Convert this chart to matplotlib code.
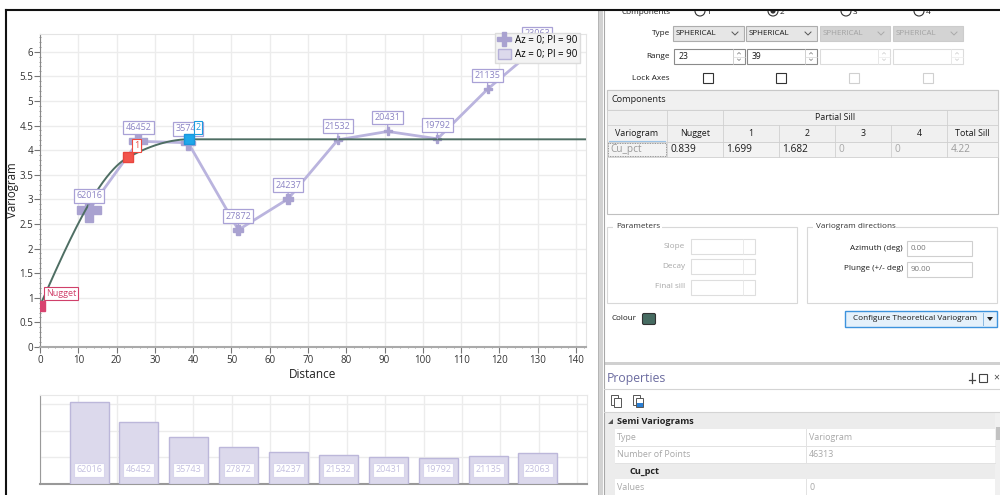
import numpy as np
import matplotlib
matplotlib.use('Agg')
import matplotlib.pyplot as plt
from matplotlib.patches import Rectangle, Circle, FancyBboxPatch
from matplotlib.lines import Line2D

plt.rcParams['font.family'] = ['Open Sans', 'DejaVu Sans']

# ---------------- data ----------------
lag_distance = [12.8, 25.7, 38.7, 51.8, 64.8, 77.8, 90.8, 103.8, 116.9, 129.8]
semivariance = [2.79, 4.18, 4.15, 2.38, 3.01, 4.21, 4.38, 4.23, 5.24, 6.09]
pair_counts = [62016, 46452, 35743, 27872, 24237, 21532, 20431, 19792, 21135, 23063]

nugget = 0.839
ranges = [23, 39]
partial_sills = [1.699, 1.682]
total_sill = 4.22
azimuth = 0.0
plunge = 90.0
num_points = 46313
variable = 'Cu_pct'
model_type = 'SPHERICAL'

x_ticks = list(range(0, 141, 10))
y_ticks = [0, 0.5, 1, 1.5, 2, 2.5, 3, 3.5, 4, 4.5, 5, 5.5, 6]

W, H = 1000, 495
fig = plt.figure(figsize=(10, 4.95), dpi=100)
fig.patch.set_facecolor('white')


def fr(x0, y0, x1, y1):
    return [x0 / W, 1 - y1 / H, (x1 - x0) / W, (y1 - y0) / H]


ui = fig.add_axes([0, 0, 1, 1], zorder=-5)
ui.set_xlim(0, W)
ui.set_ylim(H, 0)
ui.axis('off')

LABEL_C = '#8c84c4'
LABEL_E = '#a9a1d6'
PT = 0.72  # points per pixel

# ---------------- main variogram axes ----------------
XMAX, YMAX = 142.6, 6.36
AX_L, AX_T, AX_R, AX_B = 40, 34, 586, 347
ax = fig.add_axes(fr(AX_L, AX_T, AX_R, AX_B))
ax.set_xlim(0, XMAX)
ax.set_ylim(0, YMAX)


def spherical(h, a):
    r = np.minimum(np.asarray(h, float) / a, 1.0)
    return 1.5 * r - 0.5 * r ** 3


def model(h):
    g = nugget + np.zeros_like(np.asarray(h, float))
    for a, c in zip(ranges, partial_sills):
        g = g + c * spherical(h, a)
    return g


ax.plot(lag_distance, semivariance, color='#bab4de', lw=2, zorder=3)
pmin, pmax = min(pair_counts), max(pair_counts)
for x, y, p in zip(lag_distance, semivariance, pair_counts):
    ms = 5.5 + 11.5 * (p - pmin) / (pmax - pmin)
    ax.plot([x], [y], marker='P', ms=ms, color='#a9a2d0', mec='#a9a2d0', zorder=4)

hh = np.linspace(0, XMAX, 600)
ax.plot(hh, model(hh), color='#4e6e63', lw=1.4, zorder=5)

# data labels
for x, y, p in zip(lag_distance, semivariance, pair_counts):
    ax.annotate(str(p), xy=(x, y), xytext=(0, 13.8 * PT), textcoords='offset points',
                ha='center', va='center', fontsize=6.5, color=LABEL_C, zorder=7,
                annotation_clip=False,
                bbox=dict(boxstyle='square,pad=0.25', fc='white', ec=LABEL_E, lw=0.9),
                arrowprops=dict(arrowstyle='-', color=LABEL_E, lw=0.9, shrinkA=0, shrinkB=0))

# handles
ax.plot([0], [nugget], 's', ms=7.5, color='#d8436f', zorder=8)
ax.plot([ranges[0]], [model(ranges[0])], 's', ms=7.5, color='#f2544c', mec='#e8453e', zorder=8)
ax.plot([ranges[1]], [model(ranges[1])], 's', ms=7.8, color='#1fa8ea', mec='#1896dc', zorder=8)
ax.annotate('Nugget', xy=(0, nugget), xytext=(6 * PT, 7.5 * PT), textcoords='offset points',
            ha='left', va='bottom', fontsize=6.5, color='#d0406a', zorder=9,
            bbox=dict(boxstyle='square,pad=0.2', fc='white', ec='#d0406a', lw=0.8))
ax.annotate('1', xy=(ranges[0], model(ranges[0])), xytext=(6 * PT, 7.5 * PT),
            textcoords='offset points', ha='left', va='bottom', fontsize=6.5,
            color='#f04a40', zorder=9,
            bbox=dict(boxstyle='square,pad=0.2', fc='white', ec='#f04a40', lw=0.8))
ax.annotate('2', xy=(ranges[1], model(ranges[1])), xytext=(6 * PT, 7.5 * PT),
            textcoords='offset points', ha='left', va='bottom', fontsize=6.5,
            color='#1a9de0', zorder=9,
            bbox=dict(boxstyle='square,pad=0.2', fc='white', ec='#1a9de0', lw=0.8))

ax.set_xticks(x_ticks)
ax.set_yticks(y_ticks)
ax.set_yticklabels(['%g' % v for v in y_ticks])
ax.set_xticks(np.arange(0, XMAX, 2), minor=True)
ax.set_yticks(np.arange(0, YMAX, 0.1), minor=True)
ax.tick_params(which='major', length=4, width=0.8, color='#777', labelsize=7,
               labelcolor='#333', pad=2)
ax.tick_params(axis='y', which='major', pad=0.8)
ax.tick_params(which='minor', length=2, width=0.6, color='#888', direction='inout')
ax.grid(which='major', color='#ececec', lw=1)
ax.set_axisbelow(True)
for s in ['top', 'right']:
    ax.spines[s].set_color('#e4e4e4')
ax.spines['left'].set_color('#888')
ax.spines['bottom'].set_color('#aaaaaa')
ax.spines['bottom'].set_linewidth(1.5)
ax.set_xlabel('Distance', fontsize=8.5, color='#222')
ax.set_ylabel('Variogram', fontsize=8.3, color='#222')
ax.xaxis.set_label_coords(0.5, -(368 - AX_B) / (AX_B - AX_T), transform=ax.transAxes)
ax.yaxis.set_label_coords(-(AX_L - 19.5) / (AX_R - AX_L), 0.5, transform=ax.transAxes)

lab = 'Az = %g; Pl = %g' % (azimuth, plunge)
handles = [Line2D([], [], marker='P', ls='none', color='#a9a2d0', ms=9.5),
           Rectangle((0, 0), 1, 1, fc='#dcd9ec', ec='#b5b0d8')]
leg = ax.legend(handles, [lab, lab], loc='upper right', bbox_to_anchor=(0.989, 1.004),
                fontsize=7, frameon=True, fancybox=False, facecolor='#f3f3f3',
                edgecolor='#dcdcdc', framealpha=1, handlelength=1.4, handleheight=1.2,
                borderpad=0.25, labelspacing=0.25, handletextpad=0.4, borderaxespad=0)
leg.set_zorder(20)

# ---------------- histogram axes ----------------
ax2 = fig.add_axes(fr(40, 395, 587, 484))
ax2.set_xlim(0, XMAX)
ax2.set_ylim(0, 67000)
ax2.bar(lag_distance, pair_counts, width=10.2, color='#dcd9ec', edgecolor='#bcb7da',
        lw=1, zorder=3)
for x, p in zip(lag_distance, pair_counts):
    ax2.annotate(str(p), xy=(x, 0), xytext=(0, 14 * PT), textcoords='offset points',
                 ha='center', va='center', fontsize=6.5, color='#c4c0e0', zorder=5,
                 bbox=dict(boxstyle='square,pad=0.25', fc='white', ec='#d8d5ec', lw=0.8))
ax2.set_xticks(x_ticks)
ax2.set_yticks([20000, 40000, 60000])
ax2.tick_params(length=0, labelbottom=False, labelleft=False)
ax2.grid(color='#ececec', lw=1)
ax2.set_axisbelow(True)
for s in ['top', 'right']:
    ax2.spines[s].set_color('#e8e8e8')
ax2.spines['left'].set_color('#9a9a9a')
ax2.spines['bottom'].set_color('#999')
ax2.spines['bottom'].set_linewidth(1.5)

# ---------------- UI panel ----------------
UIS = 5.9  # base UI font size


def t(x, y, s, size=UIS, color='#1a1a1a', ha='left', va='center', weight='normal', z=3):
    ui.text(x, y, s, fontsize=size, color=color, ha=ha, va=va, weight=weight, zorder=z)


def box(x0, y0, x1, y1, fc='white', ec='#b4b4b4', lw=0.8, z=2):
    ui.add_patch(Rectangle((x0, y0), x1 - x0, y1 - y0, fc=fc, ec=ec, lw=lw, zorder=z))


def hline(x0, x1, y, c='#cfcfcf', lw=0.8, z=3):
    ui.plot([x0, x1], [y, y], color=c, lw=lw, zorder=z)


def vline(x, y0, y1, c='#cfcfcf', lw=0.8, z=3):
    ui.plot([x, x], [y0, y1], color=c, lw=lw, zorder=z)


# splitter
ui.add_patch(Rectangle((597.5, 10), 5, 485, fc='#d2d2d2', ec='none', zorder=2))
vline(597.5, 10, 495, c='#b0b0b0', lw=0.6)
vline(603.5, 10, 495, c='#a8a8a8', lw=0.8)

# radio buttons (clipped by top border)
t(670, 12.5, 'Components', ha='right')
for i, cx in enumerate([700, 773, 846, 919]):
    ui.add_patch(Circle((cx, 11), 5, fc='white', ec='#333', lw=0.8, zorder=3))
    if i == 1:
        ui.add_patch(Circle((cx, 11), 2.6, fc='#333', ec='none', zorder=4))
    t(cx + 6.5, 12.5, str(i + 1))

# Type row
t(670, 33.5, 'Type', ha='right')
for i, (x0, x1) in enumerate([(673, 744), (746, 817), (820, 890), (893, 963)]):
    enabled = i < 2
    box(x0, 26, x1, 41, fc='#e6e6e6' if enabled else '#d3d3d3',
        ec='#adadad' if enabled else '#cccccc')
    t(x0 + 3, 33.5, model_type, size=5.8, color='#1a1a1a' if enabled else '#a3a3a3')
    cx = x1 - 9
    ui.plot([cx - 3, cx, cx + 3], [32, 35, 32], color='#555' if enabled else '#aaa',
            lw=0.7, zorder=4)

# Range row
t(670, 56.5, 'Range', ha='right')
range_texts = [str(ranges[0]), str(ranges[1]), '', '']
for i, (x0, x1) in enumerate([(674, 745), (747, 817), (820, 890), (893, 963)]):
    enabled = i < 2
    box(x0, 49, x1, 64, fc='white', ec='#8a8a8a' if enabled else '#dcdcdc')
    vline(x1 - 12, 49, 64, c='#c8c8c8' if enabled else '#e4e4e4', lw=0.6)
    hline(x1 - 12, x1, 56.5, c='#d8d8d8' if enabled else '#ececec', lw=0.5)
    c = '#777' if enabled else '#ccc'
    ui.plot([x1 - 7.5, x1 - 6, x1 - 4.5], [54, 52.5, 54], color=c, lw=0.5, zorder=4)
    ui.plot([x1 - 7.5, x1 - 6, x1 - 4.5], [59, 60.5, 59], color=c, lw=0.5, zorder=4)
    t(x0 + 5, 56.5, range_texts[i], size=6.2)

# Lock Axes row
t(670, 78, 'Lock Axes', ha='right')
for i, cx in enumerate([708, 781, 854, 928]):
    box(cx - 5, 73, cx + 5, 83, fc='white', ec='#333' if i < 2 else '#d0d0d0', lw=0.8)

# Components table
box(607, 90, 998, 214, fc='white', ec='#c0c0c0')
box(607, 90, 998, 110, fc='#f0f0f0', ec='#c8c8c8')
t(612, 100, 'Components', size=6.6, color='#222')
box(607, 110, 998, 142, fc='#f0f0f0', ec='#d0d0d0', lw=0.6)
box(607, 142, 998, 157, fc='#f3f3f3', ec='#d0d0d0', lw=0.6)
cols = [607, 667, 723, 779, 835, 891, 947, 998]
hline(607, 998, 125, c='#d0d0d0', lw=0.6)
for c in [667, 723, 947]:
    vline(c, 110, 157, c='#d0d0d0', lw=0.6)
for c in [779, 835, 891]:
    vline(c, 125, 157, c='#d0d0d0', lw=0.6)
t(835, 117.5, 'Partial Sill', ha='center', size=6.3)
heads = ['Variogram', 'Nugget', '1', '2', '3', '4', 'Total Sill']
for i, hd in enumerate(heads):
    t((cols[i] + cols[i + 1]) / 2, 133.5, hd, ha='center', size=6.4)
hline(609, 665, 141, c='#9cc4e8', lw=0.8)
vals = [variable, '%g' % nugget, '%g' % partial_sills[0], '%g' % partial_sills[1], '0', '0',
        '%g' % total_sill]
vcols = ['#9a9a9a', '#1a1a1a', '#1a1a1a', '#1a1a1a', '#a8a8a8', '#a8a8a8', '#9a9a9a']
for i, v in enumerate(vals):
    t(cols[i] + 3.5, 149.5, v, size=7.3, color=vcols[i])
ui.add_patch(Rectangle((608, 143), 58, 13, fc='none', ec='#777', lw=0.6, ls=(0, (1, 1)),
                       zorder=4))

# Parameters group
box(607, 227, 797, 303, fc='none', ec='#d8d8d8')
ui.add_patch(Rectangle((613, 222), 49, 10, fc='white', ec='none', zorder=2.5))
t(616, 227, 'Parameters', color='#333')
for lbl, y in [('Slope', 246), ('Decay', 266.5), ('Final sill', 287)]:
    t(685, y, lbl, ha='right', color='#a8a8a8')
    box(691, y - 7.5, 755, y + 7.5, fc='white', ec='#dedede')
    vline(743, y - 7.5, y + 7.5, c='#e6e6e6', lw=0.6)

# Variogram directions group
box(807, 227, 997, 303, fc='none', ec='#d8d8d8')
ui.add_patch(Rectangle((813, 222), 83, 10, fc='white', ec='none', zorder=2.5))
t(816, 227, 'Variogram directions', color='#333')
t(903, 248, 'Azimuth (deg)', ha='right')
box(907, 241, 972, 256, fc='white', ec='#cfcfcf')
t(911, 248.5, '%.2f' % azimuth, size=5.8, color='#777')
t(903, 269, 'Plunge (+/- deg)', ha='right')
box(907, 262, 972, 277, fc='white', ec='#cfcfcf')
t(911, 269.5, '%.2f' % plunge, size=5.8, color='#777')

# Colour + button
t(612, 319, 'Colour', size=5.8)
ui.add_patch(FancyBboxPatch((642.5, 313.5), 13, 11, boxstyle='round,pad=0,rounding_size=1.5',
                            fc='#466b61', ec='#333', lw=0.8, zorder=3))
box(845, 311, 997, 327, fc='#e5f1fb', ec='#3d93dd', lw=1.0)
t(915, 319, 'Configure Theoretical Variogram', ha='center', size=5.9)
vline(983, 313, 325, c='#8ab8e0', lw=0.7)
ui.add_patch(plt.Polygon([[987, 317], [993, 317], [990, 321]], closed=True, fc='#222',
                         ec='none', zorder=4))

# Properties panel
ui.add_patch(Rectangle((604, 362), 396, 2.5, fc='#d0d0d0', ec='none', zorder=2))
t(607, 378.5, 'Properties', size=8.8, color='#6c6ca0')
vline(972, 373, 383, c='#444', lw=0.9)
hline(969, 975, 380, c='#444', lw=0.9)
ui.add_patch(Rectangle((979, 374), 8, 8, fc='none', ec='#444', lw=0.8, zorder=3))
t(993, 378, '×', size=7.5, color='#444')
hline(604, 1000, 388.5, c='#d4d4d4', lw=0.8)
ui.add_patch(Rectangle((610.5, 395), 7, 10, fc='white', ec='#555', lw=0.7, zorder=3))
ui.add_patch(Rectangle((613.5, 398), 7, 9, fc='white', ec='#555', lw=0.7, zorder=3))
ui.add_patch(Rectangle((632.5, 395), 7, 10, fc='white', ec='#555', lw=0.7, zorder=3))
ui.add_patch(Rectangle((635.5, 398), 7, 9, fc='white', ec='#555', lw=0.7, zorder=3))
ui.add_patch(Rectangle((637, 403), 6, 4, fc='#2a7fd4', ec='none', zorder=4))
hline(604, 1000, 412, c='#d4d4d4', lw=0.8)

ui.add_patch(Rectangle((604, 413), 391, 16, fc='#ececec', ec='none', zorder=2))
ui.add_patch(plt.Polygon([[608, 424], [613, 424], [613, 419]], closed=True, fc='#555',
                         ec='none', zorder=4))
t(617, 421, 'Semi Variograms', size=6.6, weight='bold', color='#222')
rows = [('Type', 'Variogram', 438), ('Number of Points', str(num_points), 454.5)]
ui.add_patch(Rectangle((604, 429), 11, 66, fc='#ececec', ec='none', zorder=2))
for name, val, y in rows:
    t(617, y, name, size=6.4, color='#a8a8a8')
    t(809, y, val, size=6.4, color='#a8a8a8')
    hline(615, 995, y + 8, c='#e2e2e2', lw=0.7)
ui.add_patch(Rectangle((604, 463), 391, 16, fc='#ececec', ec='none', zorder=2))
t(629, 471, variable, size=6.6, weight='bold', color='#222')
t(617, 487, 'Values', size=6.4, color='#a8a8a8')
t(809, 487, '0', size=6.4, color='#a8a8a8')
vline(806, 429, 463, c='#e2e2e2', lw=0.7)
vline(806, 479, 495, c='#e2e2e2', lw=0.7)
ui.add_patch(Rectangle((995, 413), 5, 82, fc='#f0f0f0', ec='none', zorder=2))
ui.add_patch(Rectangle((996, 427), 4, 13, fc='#c2c2c2', ec='none', zorder=3))

# top cover + borders
ui.add_patch(Rectangle((0, 0), W, 10, fc='white', ec='none', zorder=10))
ui.plot([5.5, W], [10, 10], color='#111', lw=1.5, zorder=11)
ui.plot([5.5, 5.5], [10, H], color='#111', lw=1.5, zorder=11)

fig.savefig('out.png', dpi=100, facecolor='white')
